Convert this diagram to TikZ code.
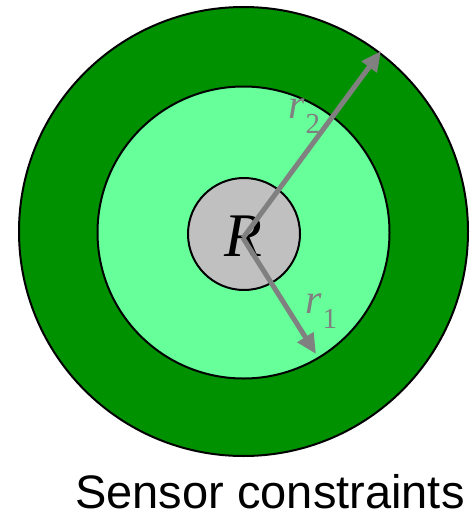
\documentclass[tikz,border=0pt]{standalone}
\usepackage{fontspec}
\setmainfont{Liberation Serif}
\newfontfamily\arialfont{Liberation Sans}
\usetikzlibrary{arrows.meta}
\definecolor{darkgrn}{RGB}{0,145,0}
\definecolor{lightgrn}{RGB}{102,255,153}
\definecolor{innergray}{RGB}{192,192,192}
\definecolor{arrowgray}{RGB}{128,128,128}
\tikzset{
  ring/.style={circle, draw=black, line width=2pt, inner sep=0pt, outer sep=0pt},
  radarrow/.style={draw=arrowgray, line width=5pt, -{Triangle[length=20pt,width=18pt]}},
  rlabel/.style={text=arrowgray, inner sep=0pt, anchor=base west, font=\fontsize{42}{42}\selectfont\itshape},
}
\newcommand{\subsc}[1]{\kern1pt\raisebox{-15pt}{\fontsize{29}{29}\selectfont\upshape #1}}
\begin{document}
\begin{tikzpicture}[x=1pt,y=-1pt]
\useasboundingbox (0,0) rectangle (475,519);
\node[ring, fill=darkgrn, minimum size=449pt] (outer) at (243.5,231.5) {};
\node[ring, fill=lightgrn, minimum size=292pt] (middle) at (243.5,232.5) {};
\node[ring, fill=innergray, minimum size=112pt] (inner) at (244,234) {};
\node[inner sep=0pt, font=\fontsize{62}{62}\selectfont\itshape] (R) at (243,236.5) {R};
\coordinate (c) at (243,238);
\coordinate (t2) at (381,51);
\coordinate (t1) at (316,354);
\draw[radarrow] (c) -- (t2);
\draw[radarrow] (c) -- (t1);
\node[rlabel] (r2) at (288,118) {r\subsc{2}};
\node[rlabel] (r1) at (305,313) {r\subsc{1}};
\node[inner sep=0pt, anchor=base, font=\arialfont\fontsize{47}{47}\selectfont] (cap) at (270,508) {Sensor constraints};
\end{tikzpicture}
\end{document}
